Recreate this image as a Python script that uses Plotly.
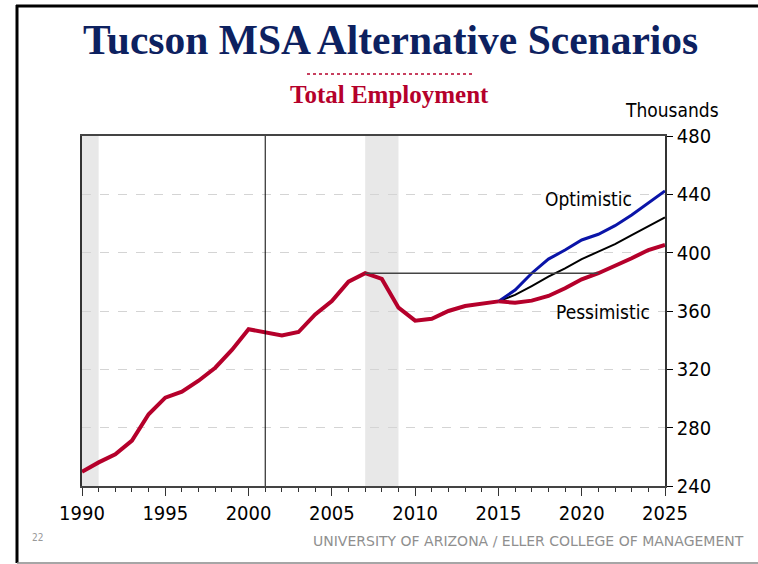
import plotly.graph_objects as go

# Data (thousands of jobs)
years_hist = list(range(1990, 2016))
emp_hist = [249.8, 256.2, 261.7, 271.1, 289.2, 300.6, 304.7, 312.2, 321.1, 333.3,
            347.5, 345.1, 343.3, 345.6, 357.7, 366.9, 380.1, 385.9, 382.0, 362.3,
            353.4, 354.7, 360.0, 363.4, 365.3, 366.6]

years_fcst = list(range(2015, 2026))
baseline = [366.6, 371.0, 377.1, 383.5, 389.3, 395.6, 400.7, 405.9, 412.1, 418.3, 424.2]
optimistic = [366.6, 374.4, 385.9, 395.6, 401.8, 408.7, 412.6, 418.5, 425.8, 433.9, 442.3]
pessimistic = [366.6, 365.7, 367.1, 370.3, 375.6, 381.7, 385.9, 390.9, 396.2, 401.8, 405.3]

recessions = [(1990, 1991), (2007, 2009)]
prior_peak = 385.9
y_ticks = [240, 280, 320, 360, 400, 440, 480]

# layout geometry (pixels)
W, H = 758, 564
L, R, T, B = 82, 665, 136, 486
NAVY = '#0d2160'
CRIMSON = '#b5002b'
SERIF = 'Liberation Serif, Times New Roman, serif'
NARROW = 'Liberation Sans Narrow, DejaVu Sans Condensed, Arial Narrow, sans-serif'


def px(x):
    return (x - L) / (R - L)


def py(y):
    return (B - y) / (B - T)


def label(text, x, y, size, color, family=NARROW, xanchor='center'):
    return dict(text=text, x=px(x), y=py(y), xref='paper', yref='paper',
                xanchor=xanchor, yanchor='middle', showarrow=False,
                font=dict(family=family, size=size, color=color))


fig = go.Figure()

fig.add_trace(go.Scatter(x=years_fcst, y=baseline, mode='lines',
                         line=dict(color='black', width=2), hoverinfo='skip'))
fig.add_trace(go.Scatter(x=years_fcst, y=optimistic, mode='lines',
                         line=dict(color='#0a14a8', width=3), hoverinfo='skip'))
fig.add_trace(go.Scatter(x=years_fcst, y=pessimistic, mode='lines',
                         line=dict(color=CRIMSON, width=4), hoverinfo='skip'))
fig.add_trace(go.Scatter(x=years_hist, y=emp_hist, mode='lines',
                         line=dict(color=CRIMSON, width=4), hoverinfo='skip'))

shapes = []
for x0, x1 in recessions:
    shapes.append(dict(type='rect', xref='x', yref='paper', x0=x0, x1=x1, y0=0, y1=1,
                       fillcolor='#e8e8e8', line_width=0, layer='below'))
shapes.append(dict(type='line', xref='x', yref='paper', x0=2001, x1=2001, y0=0, y1=1,
                   line=dict(color='black', width=1)))
shapes.append(dict(type='line', xref='x', yref='y', x0=2007, x1=2021, y0=prior_peak, y1=prior_peak,
                   line=dict(color='#444444', width=1.3)))
# slide frame
shapes.append(dict(type='line', xref='paper', yref='paper', x0=px(16), x1=px(760), y0=py(6), y1=py(6),
                   line=dict(color='black', width=3)))
shapes.append(dict(type='line', xref='paper', yref='paper', x0=px(17), x1=px(17), y0=py(5), y1=py(563),
                   line=dict(color='black', width=3)))
shapes.append(dict(type='line', xref='paper', yref='paper', x0=px(17), x1=px(760), y0=py(563), y1=py(563),
                   line=dict(color='#888888', width=1.5)))
# dotted rule above subtitle
shapes.append(dict(type='line', xref='paper', yref='paper', x0=px(307), x1=px(474), y0=py(74), y1=py(74),
                   line=dict(color=CRIMSON, width=1.5, dash='dot')))

annotations = [
    label('<b>Tucson MSA Alternative Scenarios</b>', 390, 40, 41.5, NAVY, SERIF),
    label('<b>Total Employment</b>', 389, 95, 25, CRIMSON, SERIF),
    label('Thousands', 721, 110, 19, 'black', xanchor='right'),
    label('22', 37, 537, 10, '#999999'),
    label('UNIVERSITY OF ARIZONA / ELLER COLLEGE OF MANAGEMENT', 746, 541, 14, '#8f8f8f',
          'DejaVu Sans, sans-serif', xanchor='right'),
    dict(text='Optimistic', x=2020.4, y=437, xref='x', yref='y',
         showarrow=False, font=dict(family=NARROW, size=19, color='black')),
    dict(text='Pessimistic', x=2021.3, y=359, xref='x', yref='y',
         showarrow=False, font=dict(family=NARROW, size=19, color='black')),
]

fig.update_layout(
    width=W, height=H,
    margin=dict(l=L, r=W - R, t=T, b=H - B),
    plot_bgcolor='white', paper_bgcolor='white',
    showlegend=False,
    shapes=shapes,
    annotations=annotations,
    xaxis=dict(range=[1990, 2025], tickmode='linear', tick0=1990, dtick=5,
               ticks='outside', ticklen=8, tickcolor='#333333',
               minor=dict(dtick=1, ticks='outside', ticklen=4, tickcolor='#333333'),
               showline=True, linecolor='#444444', linewidth=2, mirror=True,
               showgrid=False, zeroline=False,
               tickfont=dict(family=NARROW, size=20, color='black')),
    yaxis=dict(range=[240, 480], side='right', tickvals=y_ticks,
               ticks='outside', ticklen=6, tickcolor='black',
               showline=True, linecolor='#333333', linewidth=1.5, mirror=True,
               showgrid=True, gridcolor='#d4d4d4', griddash='dash', gridwidth=1,
               zeroline=False,
               tickfont=dict(family=NARROW, size=20, color='black')),
)

fig.write_html("out.html", config={'displayModeBar': False},
               post_script="document.body.style.margin='0';")
